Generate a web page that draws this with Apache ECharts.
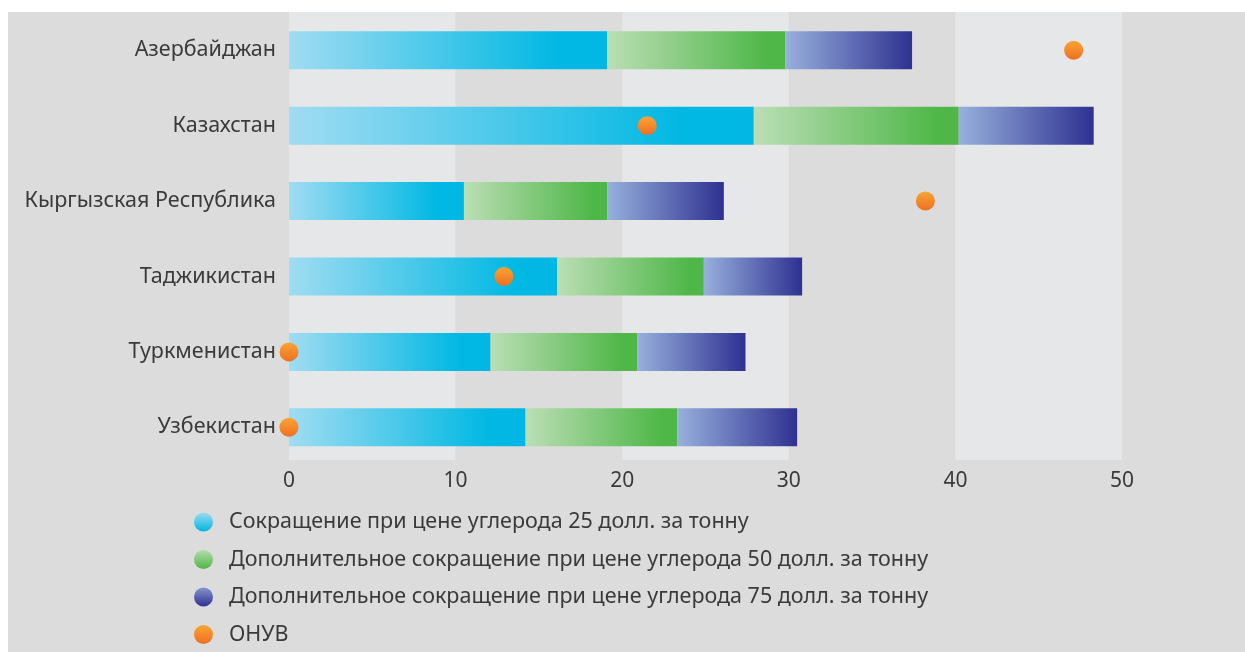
<!DOCTYPE html>
<html>
<head>
<meta charset="utf-8">
<script src="https://cdn.jsdelivr.net/npm/echarts@6/dist/echarts.min.js"></script>
<style>
  html, body { margin: 0; padding: 0; background: #ffffff; }
  #chart { width: 1245px; height: 652px; }
</style>
</head>
<body>
<div id="chart"></div>
<script>
// Countries, top to bottom
const countries = ['Азербайджан', 'Казахстан', 'Кыргызская Республика', 'Таджикистан', 'Туркменистан', 'Узбекистан'];

// Emission reduction at each carbon price step (stacked increments)
const cut25 = [19.1, 27.9, 10.5, 16.1, 12.1, 14.2];
const cut50extra = [10.7, 12.3, 8.6, 8.8, 8.8, 9.1];
const cut75extra = [7.6, 8.1, 7.0, 5.9, 6.5, 7.2];

// Nationally determined contribution (ОНУВ)
const ndc = [47.1, 21.5, 38.2, 12.9, 0, 0];

// Value axis ticks
const xTicks = [0, 10, 20, 30, 40, 50];

const seriesNames = [
  'Сокращение при цене углерода 25 долл. за тонну',
  'Дополнительное сокращение при цене углерода 50 долл. за тонну',
  'Дополнительное сокращение при цене углерода 75 долл. за тонну',
  'ОНУВ'
];

const G = echarts.graphic.LinearGradient;
const hGrad = (a, b, stop) => new G(0, 0, 1, 0, [
  { offset: 0, color: a }, { offset: stop, color: b }, { offset: 1, color: b }
]);
const vGrad = (a, b) => new G(0, 0, 0, 1, [
  { offset: 0, color: a }, { offset: 1, color: b }
]);

const textColor = '#3a3a3a';
const font = 'Noto Sans';
const labelSize = 21.5;

const xRange = {
  type: 'value',
  min: xTicks[0],
  max: xTicks[xTicks.length - 1],
  interval: xTicks[1] - xTicks[0],
  axisLine: { show: false },
  axisTick: { show: false },
  splitLine: { show: false }
};

const chart = echarts.init(document.getElementById('chart'), null, { renderer: 'canvas' });

chart.setOption({
  animation: false,
  backgroundColor: '#ffffff',
  textStyle: { fontFamily: font },
  graphic: [{
    type: 'rect',
    z: -10,
    silent: true,
    shape: { x: 8, y: 12, width: 1237, height: 640 },
    style: { fill: '#dcdcdc' }
  }],
  grid: [
    // striped background and value labels
    { left: 289, right: 123, top: 12, bottom: 192 },
    // bars, dots and country labels
    { left: 289, right: 123, top: 12.5, bottom: 187 }
  ],
  xAxis: [
    Object.assign({}, xRange, {
      gridIndex: 0,
      splitArea: { show: true, areaStyle: { color: ['#e6e7e9', '#dcdcdc'] } },
      axisLabel: { color: textColor, fontSize: 21, margin: 11, fontFamily: font }
    }),
    Object.assign({}, xRange, {
      gridIndex: 1,
      axisLabel: { show: false }
    })
  ],
  yAxis: [
    {
      gridIndex: 0,
      type: 'category',
      inverse: true,
      data: countries,
      show: false
    },
    {
      gridIndex: 1,
      type: 'category',
      inverse: true,
      data: countries,
      axisLine: { show: false },
      axisTick: { show: false },
      splitLine: { show: false },
      axisLabel: { color: textColor, fontSize: labelSize, margin: 13, fontFamily: font }
    }
  ],
  legend: {
    orient: 'vertical',
    left: 194,
    top: 511,
    padding: 0,
    itemWidth: 19,
    itemHeight: 19,
    itemGap: 15.5,
    icon: 'circle',
    selectedMode: false,
    textStyle: { color: textColor, fontSize: labelSize, lineHeight: labelSize, fontFamily: font, padding: [0, 0, 0, 11] },
    data: [
      { name: seriesNames[0], itemStyle: { color: vGrad('#9ddcf2', '#00b5e1') } },
      { name: seriesNames[1], itemStyle: { color: vGrad('#b3dcab', '#4db646') } },
      { name: seriesNames[2], itemStyle: { color: vGrad('#8595cf', '#2e3192') } },
      { name: seriesNames[3], itemStyle: { color: vGrad('#f8a534', '#ef6f22') } }
    ]
  },
  series: [
    {
      name: seriesNames[0], type: 'bar', stack: 'total', barWidth: 38,
      xAxisIndex: 1, yAxisIndex: 1,
      itemStyle: { color: hGrad('#a0dcf2', '#00b8e3', 0.85) },
      data: cut25
    },
    {
      name: seriesNames[1], type: 'bar', stack: 'total', barWidth: 38,
      xAxisIndex: 1, yAxisIndex: 1,
      itemStyle: { color: hGrad('#bbdeb5', '#4fb748', 0.9) },
      data: cut50extra
    },
    {
      name: seriesNames[2], type: 'bar', stack: 'total', barWidth: 38,
      xAxisIndex: 1, yAxisIndex: 1,
      itemStyle: { color: hGrad('#97b0dc', '#2e3191', 1) },
      data: cut75extra
    },
    {
      name: seriesNames[3], type: 'scatter', symbol: 'circle', symbolSize: 19,
      xAxisIndex: 1, yAxisIndex: 1,
      clip: false, z: 5,
      itemStyle: { color: vGrad('#f8a534', '#ef6f22'), opacity: 1 },
      data: ndc
    }
  ]
});
</script>
</body>
</html>
